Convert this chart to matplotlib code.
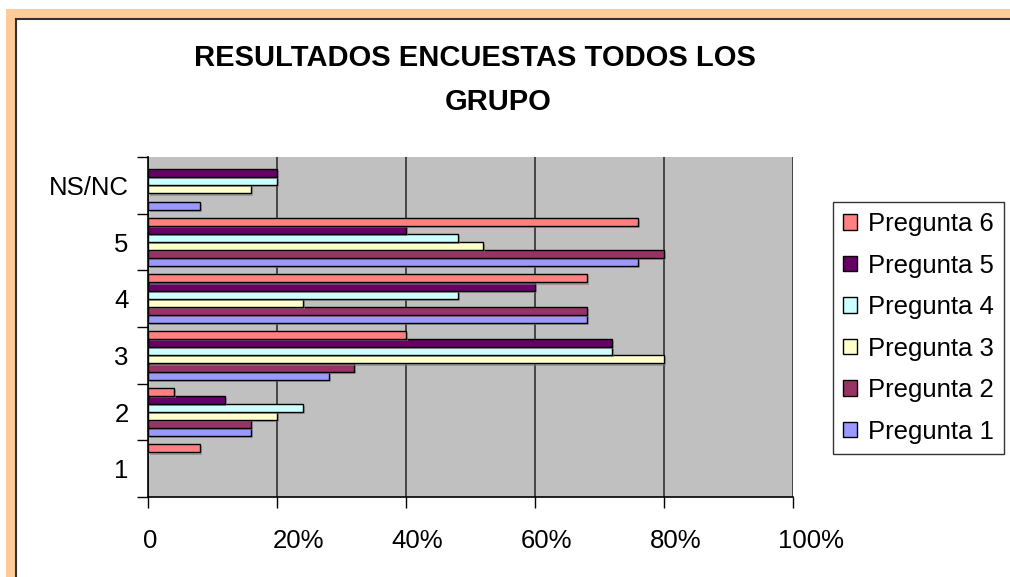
import matplotlib
matplotlib.use("Agg")
import matplotlib.pyplot as plt
import matplotlib.patheffects as pe
from matplotlib.patches import Rectangle
from matplotlib.transforms import ScaledTranslation
import numpy as np

plt.rcParams['font.family'] = ['Liberation Sans', 'DejaVu Sans']

# categories bottom -> top
categories = ['1', '2', '3', '4', '5', 'NS/NC']
series = ['Pregunta 1', 'Pregunta 2', 'Pregunta 3', 'Pregunta 4', 'Pregunta 5', 'Pregunta 6']
colors = ['#9999FF', '#993366', '#FFFFCC', '#CCFFFF', '#660066', '#FF8080']

# percent values per series, ordered like categories
p1 = [0, 16, 28, 68, 76, 8]
p2 = [0, 16, 32, 68, 80, 0]
p3 = [0, 20, 80, 24, 52, 16]
p4 = [0, 24, 72, 48, 48, 20]
p5 = [0, 12, 72, 60, 40, 20]
p6 = [8, 4, 40, 68, 76, 0]
values = [p1, p2, p3, p4, p5, p6]

xticks = [0, 20, 40, 60, 80, 100]
xticklabels = ['0', '20%', '40%', '60%', '80%', '100%']

W, H = 1010, 577
fig = plt.figure(figsize=(W / 100, H / 100), dpi=100)

def fx(px):
    return px / W

def fy(py):
    return 1 - py / H

# orange frame at top/left
fig.add_artist(Rectangle((fx(6), 0), fx(9), fy(9), transform=fig.transFigure,
                         facecolor='#FFCC99', edgecolor='none'))
fig.add_artist(Rectangle((fx(6), fy(18)), 1, fy(9) - fy(18), transform=fig.transFigure,
                         facecolor='#FFCC99', edgecolor='none'))
fig.add_artist(plt.Line2D([fx(15.5), fx(15.5)], [0, fy(18.5)], transform=fig.transFigure,
                          color='#303030', lw=1.5))
fig.add_artist(plt.Line2D([fx(15.5), 1], [fy(18.5), fy(18.5)], transform=fig.transFigure,
                          color='#303030', lw=1.5))

ax = fig.add_axes([fx(148), fy(497), fx(793) - fx(148), fy(157) - fy(497)])
ax.set_facecolor('#C0C0C0')

n = len(series)
h = 1.0 / (n + 1)
y = np.arange(len(categories))
shadow = [pe.SimplePatchShadow(offset=(1.5, -1.5), shadow_rgbFace='#808080', alpha=0.6), pe.Normal()]
handles = []
for j, (name, vals, c) in enumerate(zip(series, values, colors)):
    vals = np.array(vals, dtype=float)
    keep = vals > 0
    bars = ax.barh(y[keep] + (j - (n - 1) / 2) * h, vals[keep], height=h, color=c,
                   edgecolor='black', linewidth=1, zorder=3, label=name)
    for b in bars:
        b.set_path_effects(shadow)
    handles.append(Rectangle((0, 0), 1, 1, facecolor=c, edgecolor='black', linewidth=1))

ax.set_xlim(0, 100)
ax.set_ylim(-0.5, len(categories) - 0.5)
ax.set_xticks(xticks)
ax.set_xticklabels(xticklabels, fontsize=18.5)
ax.set_yticks(np.arange(len(categories) + 1) - 0.5, minor=False)
ax.set_yticklabels([])
ax.set_yticks(y, minor=True)
ax.set_yticklabels(categories, minor=True, fontsize=18.5)
ax.tick_params(axis='y', which='minor', length=0, pad=14)
ax.tick_params(axis='y', which='major', length=8, width=1, color='black')
ax.tick_params(axis='x', length=8, width=1, pad=15)

ax.grid(axis='x', color='#303030', linewidth=1.2, zorder=1)
ax.set_axisbelow(True)
for s in ['top', 'right']:
    ax.spines[s].set_visible(False)
for s in ['left', 'bottom']:
    ax.spines[s].set_color('black')
    ax.spines[s].set_linewidth(1.2)
    ax.spines[s].set_zorder(4)

# Excel-like shifted tick labels
offsets = [2, 21, 11, 11, 12, 18]
for lbl, dx in zip(ax.get_xticklabels(), offsets):
    lbl.set_transform(lbl.get_transform() + ScaledTranslation(dx / 100, 0, fig.dpi_scale_trans))

fig.text(fx(475), fy(58), 'RESULTADOS ENCUESTAS TODOS LOS', ha='center', va='center',
         fontsize=21, fontweight='bold')
fig.text(fx(498), fy(102), 'GRUPO', ha='center', va='center', fontsize=21, fontweight='bold')

leg = fig.legend(handles[::-1], series[::-1], loc='center left',
                 bbox_to_anchor=(fx(833), fy(328)), bbox_transform=fig.transFigure,
                 fontsize=18.5, frameon=True, fancybox=False, borderaxespad=0,
                 handlelength=0.55, handleheight=0.55, handletextpad=0.4,
                 labelspacing=0.68, borderpad=0.4)
leg.get_frame().set_edgecolor('black')
leg.get_frame().set_linewidth(1)

fig.savefig('out.png', dpi=100)
